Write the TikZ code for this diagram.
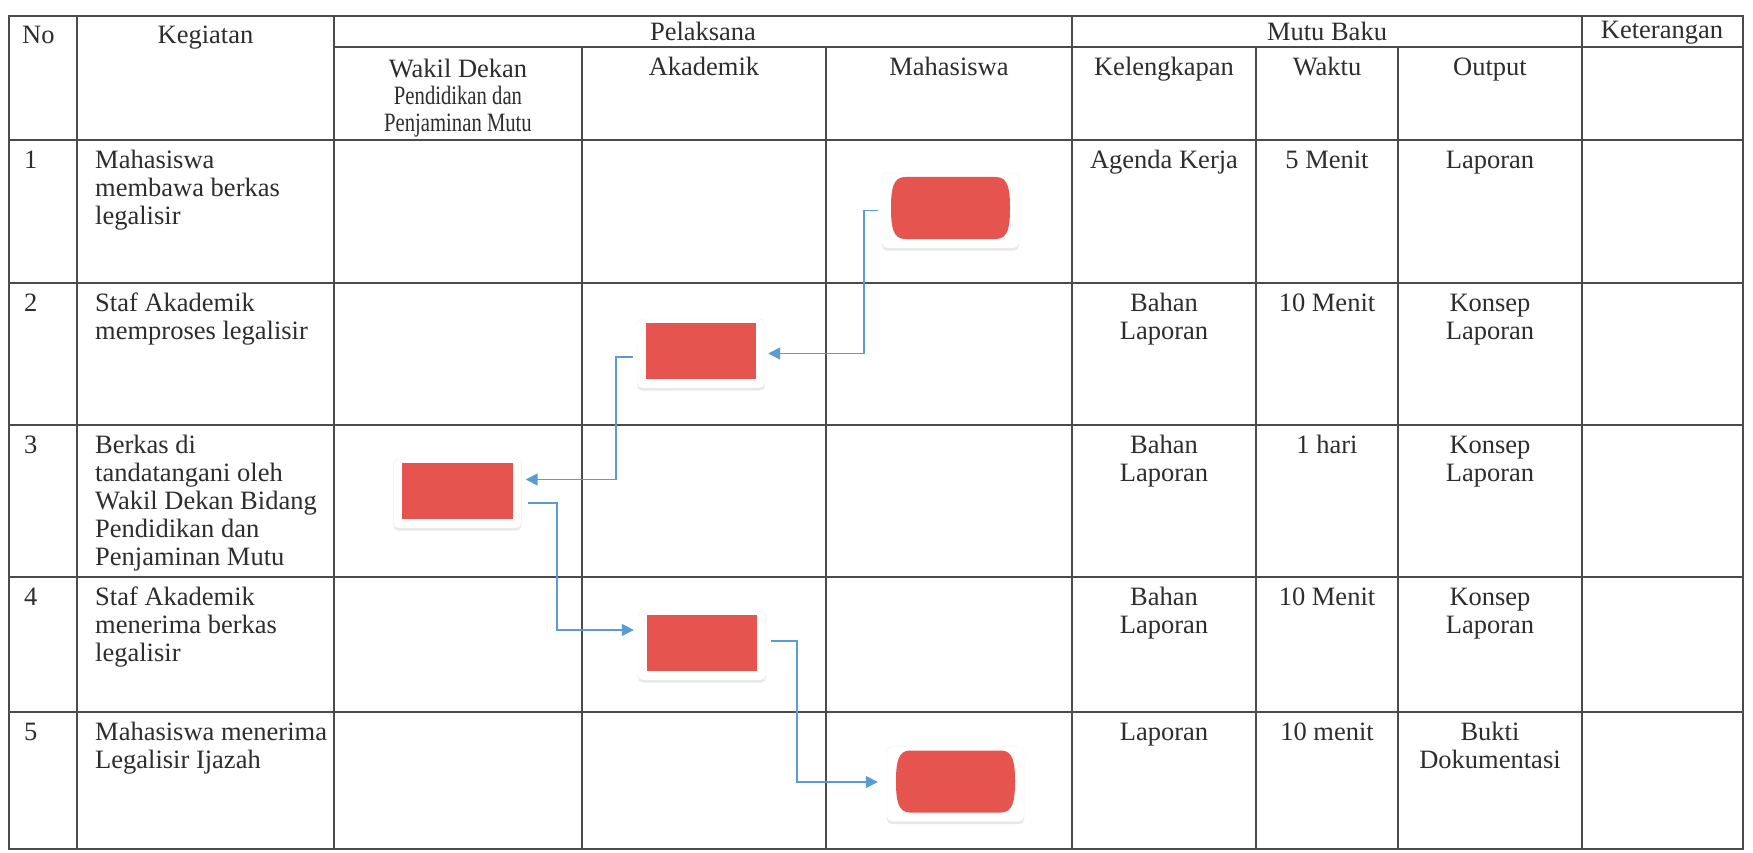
\documentclass[tikz,border=0pt]{standalone}
\usepackage{fontspec}
\setmainfont{Liberation Serif}
\usepackage{graphicx}
\usetikzlibrary{arrows.meta,calc,shadows}
\definecolor{gridc}{RGB}{75,75,75}
\definecolor{txtc}{RGB}{45,45,45}
\definecolor{redc}{RGB}{230,84,80}
\definecolor{bluec}{RGB}{91,155,213}
\newcommand\fl{\rule{0pt}{20pt}}
\begin{document}
\begin{tikzpicture}[x=1pt,y=-1pt,
  grid/.style={draw=gridc,line width=1.4pt},
  txt/.style={text=txtc,inner sep=0pt,font=\fontsize{26.5pt}{28pt}\selectfont},
  lt/.style={txt,anchor=north west,align=left},
  ct/.style={txt,anchor=north,align=center},
  card/.style={draw=gray!12,fill=white,rounded corners=5pt,inner sep=0pt,
     drop shadow={opacity=0.18,shadow xshift=0pt,shadow yshift=-2.5pt}},
  proc/.style={card,minimum width=128pt,minimum height=69pt},
  term/.style={card,minimum width=137pt,minimum height=75pt},
  conn/.style={draw=bluec,line width=1.6pt,-{Triangle[length=12pt,width=12pt]}}
]
\useasboundingbox (0,0) rectangle (1753,853);
\fill[white] (0,0) rectangle (1753,853);

% grid
\draw[grid] (9,16) rectangle (1743,849);
\draw[grid] (334,47) -- (1743,47);
\foreach \yy in {140,283,425,577,712} {\draw[grid] (9,\yy) -- (1743,\yy);}
\foreach \xx in {77,334,1072,1582} {\draw[grid] (\xx,16) -- (\xx,849);}
\foreach \xx in {582,826,1256,1398} {\draw[grid] (\xx,47) -- (\xx,849);}

% header
\node[lt] (hno) at (22,23) {\fl No};
\node[ct] (hkeg) at (205.5,23) {\fl Kegiatan};
\node[ct] (hpel) at (703,20) {\fl Pelaksana};
\node[ct] (hmutu) at (1327,20) {\fl Mutu Baku};
\node[ct] (hket) at (1662,18) {\fl Keterangan};
\node[ct,font=\fontsize{26.5pt}{27pt}\selectfont] (hwd) at (458,57) {\fl Wakil Dekan\\\scalebox{0.78}[1]{Pendidikan dan}\\\scalebox{0.78}[1]{Penjaminan Mutu}};
\node[ct] (hak) at (704,55) {\fl Akademik};
\node[ct] (hmhs) at (949,55) {\fl Mahasiswa};
\node[ct] (hkel) at (1164,55) {\fl Kelengkapan};
\node[ct] (hwkt) at (1327,55) {\fl Waktu};
\node[ct] (hout) at (1490,55) {\fl Output};

% row 1
\node[lt] (n1) at (24,148) {\fl 1};
\node[lt] (k1) at (95,148) {\fl Mahasiswa\\membawa berkas\\legalisir};
\node[ct] (l1) at (1164,148) {\fl Agenda Kerja};
\node[ct] (w1) at (1327,148) {\fl 5 Menit};
\node[ct] (o1) at (1490,148) {\fl Laporan};
% row 2
\node[lt] (n2) at (24,291) {\fl 2};
\node[lt] (k2) at (95,291) {\fl Staf Akademik\\memproses legalisir};
\node[ct] (l2) at (1164,291) {\fl Bahan\\Laporan};
\node[ct] (w2) at (1327,291) {\fl 10 Menit};
\node[ct] (o2) at (1490,291) {\fl Konsep\\Laporan};
% row 3
\node[lt] (n3) at (24,433) {\fl 3};
\node[lt] (k3) at (95,433) {\fl Berkas di\\tandatangani oleh\\Wakil Dekan Bidang\\Pendidikan dan\\Penjaminan Mutu};
\node[ct] (l3) at (1164,433) {\fl Bahan\\Laporan};
\node[ct] (w3) at (1327,433) {\fl 1 hari};
\node[ct] (o3) at (1490,433) {\fl Konsep\\Laporan};
% row 4
\node[lt] (n4) at (24,585) {\fl 4};
\node[lt] (k4) at (95,585) {\fl Staf Akademik\\menerima berkas\\legalisir};
\node[ct] (l4) at (1164,585) {\fl Bahan\\Laporan};
\node[ct] (w4) at (1327,585) {\fl 10 Menit};
\node[ct] (o4) at (1490,585) {\fl Konsep\\Laporan};
% row 5
\node[lt] (n5) at (24,720) {\fl 5};
\node[lt] (k5) at (95,720) {\fl Mahasiswa menerima\\Legalisir Ijazah};
\node[ct] (l5) at (1164,720) {\fl Laporan};
\node[ct] (w5) at (1327,720) {\fl 10 menit};
\node[ct] (o5) at (1490,720) {\fl Bukti\\Dokumentasi};

% flow shapes
\node[term] (t1) at (950.5,210.5) {};
\node[proc] (b2) at (701,353.5) {};
\node[proc] (b3) at (457.5,493.5) {};
\node[proc] (b4) at (702,645.5) {};
\node[term] (t5) at (955.5,784) {};
\foreach \n in {b2,b3,b4} {
  \fill[redc] ($(\n.south west)+(9pt,9pt)$) rectangle ($(\n.north east)+(-9pt,-4pt)$);
}
\foreach \n in {t1,t5} {
  \fill[redc,shift={(\n.center)}] (-45.5,-33.5) -- (45.5,-33.5)
    .. controls (57.5,-33.5) and (59.5,-21.5) .. (59.5,-2.5)
    .. controls (59.5,16.5) and (57.5,28.5) .. (45.5,28.5)
    -- (-45.5,28.5)
    .. controls (-57.5,28.5) and (-59.5,16.5) .. (-59.5,-2.5)
    .. controls (-59.5,-21.5) and (-57.5,-33.5) .. (-45.5,-33.5) -- cycle;
}

% connectors
\draw[conn] ([xshift=-4pt]t1.west) -- ++(-14,0) |- ([xshift=3pt]b2.east);
\draw[conn] ([xshift=-4pt,yshift=-3.5pt]b2.west) -- ++(-17,0) |- ([xshift=4pt,yshift=14pt]b3.east);
\draw[conn] ([xshift=6pt,yshift=-9.5pt]b3.east) -- ++(29,0) |- ([xshift=-4pt,yshift=15.5pt]b4.west);
\draw[conn] ([xshift=5pt,yshift=4.5pt]b4.east) -- ++(26,0) |- ([xshift=-9pt,yshift=2pt]t5.west);
\end{tikzpicture}
\end{document}
